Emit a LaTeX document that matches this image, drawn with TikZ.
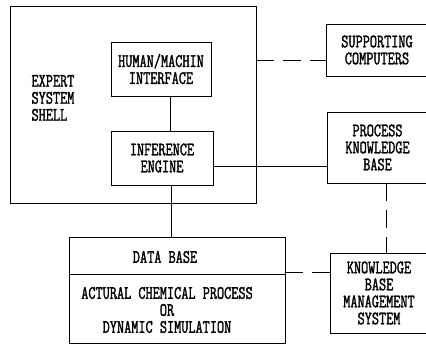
\documentclass[tikz,border=0pt]{standalone}
\usepackage{fontspec}
\newfontfamily\tw{Latin Modern Mono}[FakeStretch=0.73,FakeBold=1.5]
\begin{document}
\begin{tikzpicture}[x=1pt,y=-1pt,
  box/.style={draw,line width=0.8pt,inner sep=0pt},
  lbl/.style={font=\tw\fontsize{19}{17}\selectfont,align=center},
  conn/.style={line width=0.8pt},
  dsh/.style={line width=0.8pt,dash pattern=on 18pt off 9pt}]
\useasboundingbox (0,0) rectangle (426,345);
\clip (0,0) rectangle (426,345);
% expert system shell
\node[box,minimum width=246pt,minimum height=197pt] (shell) at (133,104.5) {};
\node[lbl,align=left,anchor=west] (shelllbl) at (28,98) {EXPERT\\SYSTEM\\SHELL};
\node[box,lbl,minimum width=100pt,minimum height=54pt] (hmi) at (161,69) {HUMAN/MACHIN\\INTERFACE};
\node[box,lbl,minimum width=102pt,minimum height=54pt] (ie) at (162,158) {INFERENCE\\ENGINE};
% data base
\node[box,minimum width=216pt,minimum height=106pt] (db) at (177,290) {};
\coordinate (dbl) at (69,274);
\coordinate (dbr) at (285,274);
\node[lbl] (dbtitle) at (165,257) {DATA BASE};
\node[lbl] (dbtext) at (167,310) {ACTURAL CHEMICAL PROCESS\\OR\\DYNAMIC SIMULATION};
% right column
\node[box,lbl,minimum width=102pt,minimum height=52pt] (sc) at (377,50) {SUPPORTING\\COMPUTERS};
\node[box,lbl,minimum width=101pt,minimum height=71pt] (pkb) at (377.5,147.5) {PROCESS\\KNOWLEDGE\\BASE};
\node[box,lbl,minimum width=98pt,minimum height=80pt] (kbms) at (379,293) {KNOWLEDGE\\BASE\\MANAGEMENT\\SYSTEM};
% connector x/y positions
\coordinate (xa) at (170,0);
\coordinate (xb) at (171,0);
\coordinate (xc) at (386,0);
\coordinate (ya) at (0,60);
\coordinate (yb) at (0,166);
\coordinate (yc) at (0,272);
% connectors
\draw[conn] (dbl) -- (dbr);
\draw[conn] (hmi.south -| xa) -- (ie.north -| xa);
\draw[conn] (ie.south -| xb) -- (db.north -| xb);
\draw[conn] (ie.east |- yb) -- (pkb.west |- yb);
\draw[dsh] (shell.east |- ya) -- (sc.west |- ya);
\draw[dsh] (pkb.south -| xc) -- (kbms.north -| xc);
\draw[dsh] (db.east |- yc) -- (kbms.west |- yc);
\end{tikzpicture}
\end{document}
